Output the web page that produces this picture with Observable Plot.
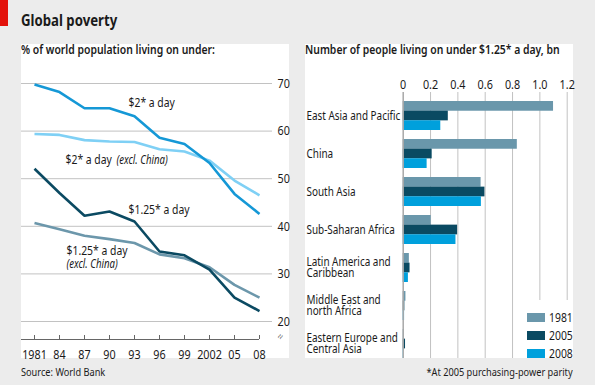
<!DOCTYPE html>
<html><head><meta charset="utf-8">
<script src="https://cdn.jsdelivr.net/npm/d3@7"></script>
<script src="https://cdn.jsdelivr.net/npm/@observablehq/plot@0.6"></script>
<style>
body{margin:0;}
#root{position:relative;width:595px;height:385px;background:#ececec;font-family:"Noto Sans",sans-serif;color:#1a1a1a;overflow:hidden;}
.abs{position:absolute;white-space:nowrap;line-height:1;}
.cx{display:inline-block;transform:scaleX(0.8);transform-origin:left center;}
.cxr{display:inline-block;transform:scaleX(0.8);transform-origin:right center;}
.panel{background:#fff;}
.legrow{display:flex;align-items:center;height:17.9px;font-size:13px;}
.sw{width:18px;height:9px;margin-right:4px;flex:none;}
svg{overflow:visible;}
</style></head><body>
<div id="root">
  <div class="abs" style="left:0;top:0;width:8px;height:26px;background:#e3120b"></div>
  <div class="abs" style="left:21px;top:12px;font-size:16.5px;font-weight:bold;"><span class="cx">Global poverty</span></div>
  <div class="abs panel" style="left:21px;top:44px;width:268px;height:314px"></div>
  <div class="abs panel" style="left:305px;top:44px;width:268px;height:314px"></div>
  <div class="abs" style="left:21px;top:43px;font-size:13px;font-weight:600;"><span class="cx">% of world population living on under:</span></div>
  <div class="abs" style="left:305px;top:43px;font-size:13px;font-weight:600;"><span class="cx">Number of people living on under $1.25* a day, bn</span></div>
  <div class="abs" id="left" style="left:21px;top:44px;"></div>
  <div class="abs" id="right" style="left:305px;top:44px;"></div>
  <div class="abs" id="legend" style="left:527px;top:309px;"></div>
  <div class="abs" style="left:21px;top:366px;font-size:11.5px;"><span class="cx">Source: World Bank</span></div>
  <div class="abs" style="right:22px;top:366px;font-size:11.5px;"><span class="cxr">*At 2005 purchasing-power parity</span></div>
</div>
<script>
// ---- Left chart data ----
const years = [1981, 1984, 1987, 1990, 1993, 1996, 1999, 2002, 2005, 2008];
const yearLabels = ["1981", "84", "87", "90", "93", "96", "99", "2002", "05", "08"];
const usd2 = [69.8, 68.2, 64.8, 64.8, 63.1, 58.6, 57.3, 53.3, 46.8, 42.6];
const usd2ExChina = [59.4, 59.2, 58.1, 57.8, 57.7, 56.2, 55.7, 53.8, 49.6, 46.5];
const usd125 = [52.1, 47.0, 42.2, 43.1, 41.0, 34.7, 33.9, 30.9, 25.0, 22.2];
const usd125ExChina = [40.7, 39.4, 38.0, 37.3, 36.5, 34.1, 33.3, 31.4, 27.7, 25.0];
const yTicks = [20, 30, 40, 50, 60, 70];
const seriesNames = ["$1.25 excl. China", "$2 excl. China", "$1.25", "$2"];
const seriesColors = ["#6c97ab", "#7fd0f5", "#0b4a62", "#1598d6"];

// ---- Right chart data ----
const regions = ["East Asia and Pacific", "China", "South Asia", "Sub-Saharan Africa",
  "Latin America and Caribbean", "Middle East and north Africa", "Eastern Europe and Central Asia"];
const regionLabels = ["East Asia and Pacific", "China", "South Asia", "Sub-Saharan Africa",
  "Latin America and\nCaribbean", "Middle East and\nnorth Africa", "Eastern Europe and\nCentral Asia"];
const barYears = ["1981", "2005", "2008"];
const bn1981 = [1.10, 0.835, 0.570, 0.205, 0.045, 0.020, 0.008];
const bn2005 = [0.330, 0.212, 0.598, 0.398, 0.050, 0.012, 0.017];
const bn2008 = [0.275, 0.175, 0.572, 0.386, 0.038, 0.010, 0.003];
const xTicks = [0, 0.2, 0.4, 0.6, 0.8, 1.0, 1.2];
const barColors = ["#6a97ab", "#0a4a62", "#00a0dc"];

const FONT = '"Noto Sans", sans-serif';
const NARROW = 0.8; // horizontal text compression (condensed look)
const baseStyle = {background: "transparent", fontFamily: FONT, fontSize: "13.5px", color: "#1a1a1a", overflow: "visible"};

// compress every SVG text horizontally around its own anchor point
function condense(svg) {
  svg.querySelectorAll("text").forEach(t => {
    const tr = t.getAttribute("transform") || "";
    t.setAttribute("transform", `${tr} scale(${NARROW},1)`);
  });
  return svg;
}

// long table for lines
const lineSeries = {"$2": usd2, "$2 excl. China": usd2ExChina, "$1.25": usd125, "$1.25 excl. China": usd125ExChina};
const lineRows = seriesNames.flatMap(s => years.map((y, i) => ({series: s, year: y, value: lineSeries[s][i]})));
const pt = (s, yr) => lineRows.filter(d => d.series === s && d.year === yr);

const left = Plot.plot({
  width: 268, height: 314,
  marginLeft: 13, marginRight: 30, marginTop: 39, marginBottom: 37,
  style: baseStyle,
  x: {domain: [1981, 2008], axis: null},
  y: {domain: [20, 70], axis: null},
  color: {domain: seriesNames, range: seriesColors},
  marks: [
    Plot.ruleY(yTicks, {stroke: "#c2c2c2", strokeWidth: 1, insetLeft: -13, insetRight: -13}),
    Plot.text(yTicks, {y: d => d, text: d => String(d), frameAnchor: "right", dx: 18, textAnchor: "start", fill: "#1a1a1a"}),
    Plot.ruleY([20], {dy: 18, insetLeft: -13, stroke: "#666"}),
    Plot.ruleX(years, {x: d => d, y1: 20, y2: 20, dy: 18, insetTop: -4, stroke: "#666"}),
    Plot.text(years, {x: d => d, y: 20, dy: 33, text: (d, i) => yearLabels[i], fill: "#1a1a1a"}),
    Plot.text(["≈"], {frameAnchor: "bottom-right", lineAnchor: "middle", dx: 22, dy: 13, rotate: -60, fontSize: 11, fill: "#777"}),
    Plot.line(lineRows, {x: "year", y: "value", z: "series", stroke: "series", strokeWidth: 2.6, strokeLinejoin: "miter", strokeLinecap: "butt"}),
    // labels anchored to series points
    Plot.text(pt("$2", 1993), {x: "year", y: "value", text: () => "$2* a day", textAnchor: "start", dx: -6, dy: -14, fontSize: 13, fill: "#1a1a1a"}),
    Plot.text(pt("$2 excl. China", 1981), {x: "year", y: "value", text: () => "$2* a day", textAnchor: "start", dx: 31, dy: 26, fontSize: 13, fill: "#1a1a1a"}),
    Plot.text(pt("$2 excl. China", 1981), {x: "year", y: "value", text: () => "(excl. China)", textAnchor: "start", dx: 82, dy: 26, fontSize: 12, fontStyle: "italic", fill: "#1a1a1a"}),
    Plot.text(pt("$1.25", 1993), {x: "year", y: "value", text: () => "$1.25* a day", textAnchor: "start", dx: -6, dy: -12, fontSize: 13, fill: "#1a1a1a"}),
    Plot.text(pt("$1.25 excl. China", 1981), {x: "year", y: "value", text: () => "$1.25* a day", textAnchor: "start", dx: 32, dy: 28, fontSize: 13, fill: "#1a1a1a"}),
    Plot.text(pt("$1.25 excl. China", 1981), {x: "year", y: "value", text: () => "(excl. China)", textAnchor: "start", dx: 32, dy: 41, fontSize: 12, fontStyle: "italic", fill: "#1a1a1a"})
  ]
});
document.getElementById("left").appendChild(condense(left));

// bars
const bnByYear = {"1981": bn1981, "2005": bn2005, "2008": bn2008};
const barRows = barYears.flatMap(yr => regions.map((r, i) => ({region: r, year: yr, value: bnByYear[yr][i]})));
const yCfg = {type: "band", domain: regions, range: [56, 314], paddingInner: 0.243, paddingOuter: 0};
const bw = Plot.scale({y: yCfg}).bandwidth;
const sub = bw / barYears.length;

const right = Plot.plot({
  width: 268, height: 314,
  marginLeft: 97.7, marginRight: 6.3, marginTop: 56, marginBottom: 0,
  style: baseStyle,
  x: {domain: [0, 1.2], axis: null},
  y: {domain: regions, paddingInner: 0.243, paddingOuter: 0, axis: null},
  color: {domain: barYears, range: barColors},
  marks: [
    Plot.ruleX(xTicks.filter(d => d > 0 && d < 1), {stroke: "#c2c2c2", insetTop: -8}),
    Plot.ruleX(xTicks.filter(d => d >= 1), {stroke: "#c2c2c2", insetTop: -8, insetBottom: 58}),
    Plot.text(xTicks, {x: d => d, text: d => d === 0 ? "0" : d.toFixed(1), frameAnchor: "top", lineAnchor: "middle", dy: -16, fill: "#1a1a1a"}),
    ...barYears.map((yr, i) => Plot.barX(barRows.filter(d => d.year === yr), {
      x: "value", y: "region", fill: "year", insetTop: i * sub, insetBottom: (barYears.length - 1 - i) * sub
    })),
    Plot.ruleX([0], {stroke: "#a8a8a8", strokeWidth: 1.5, insetTop: -8}),
    Plot.text(regions, {y: d => d, text: (d, i) => regionLabels[i], frameAnchor: "left", textAnchor: "start", dx: -96.7, lineHeight: 0.92, fontSize: 12.4, fill: "#1a1a1a"})
  ]
});
document.getElementById("right").appendChild(condense(right));

// legend
const leg = document.getElementById("legend");
barYears.forEach((yr, i) => {
  const row = document.createElement("div");
  row.className = "legrow";
  row.innerHTML = `<div class="sw" style="background:${barColors[i]}"></div><span class="cx">${yr}</span>`;
  leg.appendChild(row);
});
</script>
</body></html>
